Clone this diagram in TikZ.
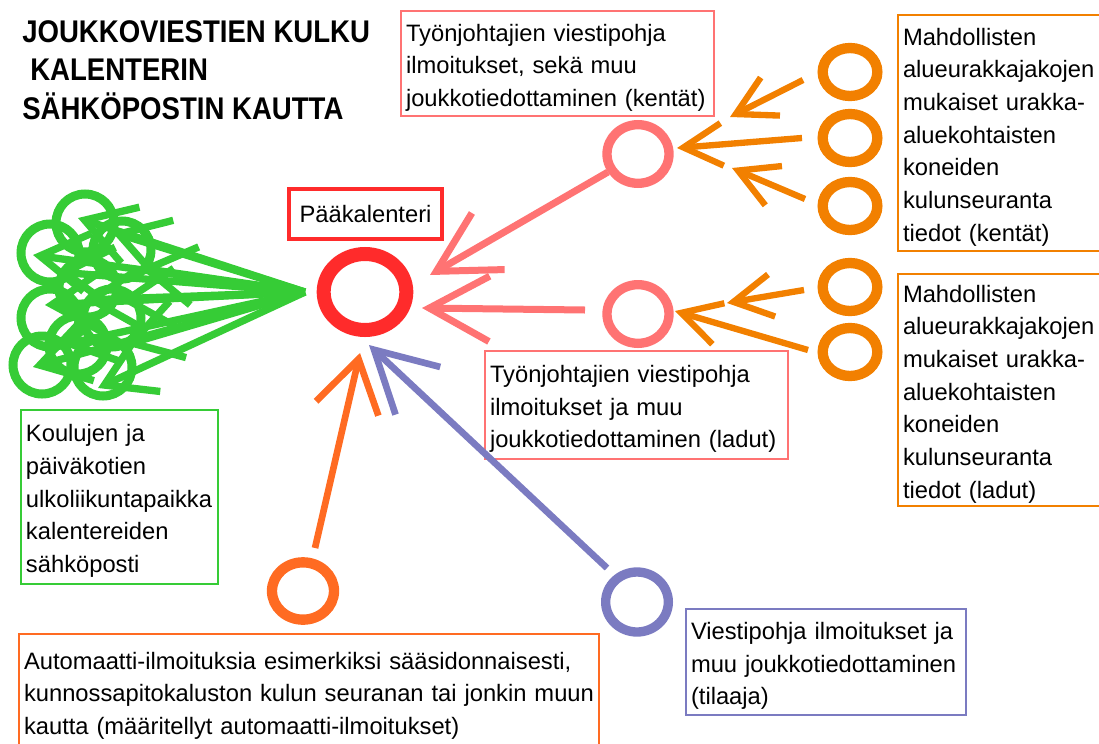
\documentclass[tikz,border=0pt]{standalone}
\usepackage{fontspec}
\setmainfont{Liberation Sans}
\newfontfamily\titlefont[FakeStretch=0.88]{Liberation Sans}
\usetikzlibrary{arrows.meta,shapes.geometric}
\definecolor{cRed}{HTML}{FF2B2B}
\definecolor{cPink}{HTML}{FF7373}
\definecolor{cOrange}{HTML}{F28000}
\definecolor{cOrRed}{HTML}{FF6B22}
\definecolor{cPurple}{HTML}{7B7BC1}
\definecolor{cGreen}{HTML}{36CC36}
\newcommand\fst{\rule{0pt}{19pt}}
\begin{document}
\begin{tikzpicture}[x=0.75pt,y=-0.75pt,
  execute at begin node={\hyphenpenalty=10000 \exhyphenpenalty=10000},
  ring/.style={draw, ellipse, inner sep=0pt},
  txtbox/.style={draw, line width=1.5pt, anchor=north west, align=left,
    inner xsep=3.75pt, inner ysep=0pt, font=\fontsize{17.8}{24.5}\selectfont},
  bigbarb/.style={-{Straight Barb[length=45pt,width=49pt]}},
  smallbarb/.style={-{Straight Barb[length=29pt,width=32pt]}},
  greenbarb/.style={-{Straight Barb[length=36pt,width=44pt]}},
  pinkline/.style={draw=cPink, line width=5.25pt, bigbarb},
  orangeline/.style={draw=cOrange, line width=4.75pt, smallbarb},
  greenline/.style={draw=cGreen, line width=5.5pt, greenbarb}]
\useasboundingbox (0,0) rectangle (1099,743);

% title
\node[anchor=north west, inner sep=0pt, align=left,
  font={\titlefont\bfseries\fontsize{23.5}{28.9}\selectfont}] (title) at (22,20)
  {JOUKKOVIESTIEN KULKU\\\hspace*{6pt}KALENTERIN\\SÄHKÖPOSTIN KAUTTA};

% text boxes
\node[txtbox, draw=cPink, text width=227.25pt, minimum height=78.75pt] (tp1) at (400,10)
  {\fst Työnjohtajien~viestipohja\\ilmoitukset,~sekä~muu\\joukkotiedottaminen~(kentät)};
\node[draw=cRed, line width=3pt, anchor=north west, minimum width=114.75pt, minimum height=37.5pt,
  inner sep=0pt, font=\fontsize{17.8}{24.5}\selectfont] (tpk) at (287,187) {Pääkalenteri};
\node[txtbox, draw=cPink, text width=219.75pt, minimum height=81pt] (tp2) at (484,350)
  {\fst Työnjohtajien~viestipohja\\ilmoitukset~ja~muu\\joukkotiedottaminen~(ladut)};
\node[txtbox, draw=cGreen, text width=140.25pt, minimum height=130.5pt] (tg) at (20,409)
  {\fst Koulujen~ja\\päiväkotien\\ulkoliikuntapaikka\\kalentereiden\\sähköposti};
\node[txtbox, draw=cOrange, text width=152.25pt, minimum height=177pt] (to1) at (897,14)
  {\fst Mahdollisten\\alueurakkajakojen\\mukaiset~urakka-\\aluekohtaisten\\koneiden\\kulunseuranta\\tiedot~(kentät)};
\node[txtbox, draw=cOrange, text width=152.25pt, minimum height=174pt] (to2) at (897,273)
  {\fst Mahdollisten\\alueurakkajakojen\\mukaiset~urakka-\\aluekohtaisten\\koneiden\\kulunseuranta\\tiedot~(ladut)};
\node[txtbox, draw=cOrRed, text width=427.5pt, minimum height=86.25pt] (tb) at (18,633)
  {\fst Automaatti-ilmoituksia~esimerkiksi~sääsidonnaisesti,\\kunnossapitokaluston~kulun~seuranan~tai~jonkin~muun\\kautta~(määritellyt~automaatti-ilmoitukset)};
\node[txtbox, draw=cPurple, text width=202.5pt, minimum height=79.5pt] (tv) at (685,608)
  {\fst Viestipohja~ilmoitukset~ja\\muu~joukkotiedottaminen\\(tilaaja)};

% circles
\node[ring, draw=cRed, line width=10.5pt, minimum width=62pt, minimum height=57pt] (main) at (365,292) {};
\node[ring, draw=cPink, line width=7pt, minimum width=46.5pt, minimum height=44pt] (pk1) at (638,154) {};
\node[ring, draw=cPink, line width=7pt, minimum width=46.5pt, minimum height=44pt] (pk2) at (638,314) {};
\foreach \n/\yy in {o1/72,o2/138,o3/206,o4/287,o5/352}
  \node[ring, draw=cOrange, line width=7.75pt, minimum width=41pt, minimum height=36pt] (\n) at (850,\yy) {};
\node[ring, draw=cOrRed, line width=7.75pt, minimum width=46.5pt, minimum height=43pt] (ob) at (303,591) {};
\node[ring, draw=cPurple, line width=7pt, minimum width=47pt, minimum height=45pt] (pv) at (637,602) {};
\foreach \n/\xx/\yy in {g1/85/223,g2/50/253,g3/122/250,g4/88/288,g5/50/318,g6/112/318,g7/42/365,g8/103/367,g9/78/345}
  \node[ring, draw=cGreen, line width=6.75pt, minimum width=43.5pt, minimum height=43.5pt] (\n) at (\xx,\yy) {};

% arrow end points
\coordinate (a1s) at (608,172); \coordinate (a1e) at (430,275);
\coordinate (a2s) at (585,310); \coordinate (a2e) at (422,308);
\coordinate (b1s) at (803,80);  \coordinate (b1e) at (730,117);
\coordinate (b2s) at (802,138); \coordinate (b2e) at (677,148);
\coordinate (b3s) at (805,199); \coordinate (b3e) at (732,168);
\coordinate (b4s) at (804,290); \coordinate (b4e) at (727,303);
\coordinate (b5s) at (808,350); \coordinate (b5e) at (675,311);
\coordinate (cs) at (315,548);  \coordinate (ce) at (360,353);
\coordinate (ds) at (607,568);  \coordinate (de) at (369,345);
\coordinate (gapex) at (305,292);

% arrows
\draw[pinkline] (a1s) -- (a1e);
\draw[pinkline] (a2s) -- (a2e);
\foreach \k in {b1,b2,b3,b4,b5}
  \draw[orangeline] (\k s) -- (\k e);
\draw[draw=cOrRed, line width=5pt, -{Straight Barb[length=38pt,width=48pt]}] (cs) -- (ce);
\draw[draw=cPurple, line width=5pt, bigbarb] (ds) -- (de);
\foreach \tx/\ty in {33/255,78/218,112/232,45/305,85/300,33/367,98/388,125/345,62/345,58/272,140/268,120/300}
  \draw[greenline] (gapex) -- (\tx,\ty);
\end{tikzpicture}
\end{document}
